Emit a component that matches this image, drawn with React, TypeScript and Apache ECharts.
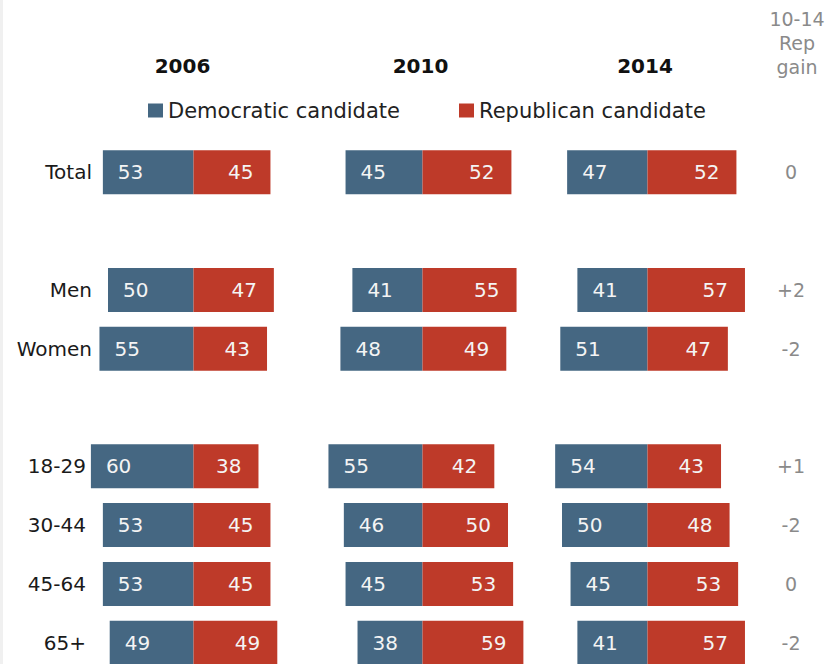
import React, { useEffect, useRef } from "react";
import * as echarts from "echarts";

const categories = ["Total", "", "Men", "Women", " ", "18-29", "30-44", "45-64", "65+"];
const ageGroups = ["18-29", "30-44", "45-64", "65+"];
const years = ["2006", "2010", "2014"];

const dem2006 = [53, null, 50, 55, null, 60, 53, 53, 49];
const rep2006 = [45, null, 47, 43, null, 38, 45, 45, 49];
const dem2010 = [45, null, 41, 48, null, 55, 46, 45, 38];
const rep2010 = [52, null, 55, 49, null, 42, 50, 53, 59];
const dem2014 = [47, null, 41, 51, null, 54, 50, 45, 41];
const rep2014 = [52, null, 57, 47, null, 43, 48, 53, 57];
const repGain = ["0", "", "+2", "-2", "", "+1", "-2", "0", "-2"];

const DEM = "Democratic candidate";
const REP = "Republican candidate";

export default function App() {
  const ref = useRef<HTMLDivElement>(null);

  useEffect(() => {
    if (!ref.current) return;
    const chart = echarts.init(ref.current, null, { renderer: "svg" });
    const font = "'DejaVu Sans', sans-serif";
    const demColor = "#456782";
    const repColor = "#be3a29";
    const centers = [193.5, 422.5, 647.5];
    const pxPerUnit = 1.71;
    const half = 65;
    const gridW = half * 2 * pxPerUnit;
    const dems = [dem2006, dem2010, dem2014];
    const reps = [rep2006, rep2010, rep2014];

    const grids = centers.map((c) => ({
      left: c - gridW / 2,
      width: gridW,
      top: 142.9,
      height: 529.2,
      containLabel: false,
    }));

    const xAxes = centers.map((_, i) => ({
      type: "value",
      gridIndex: i,
      min: -half,
      max: half,
      show: false,
    }));

    const yAxes: any[] = centers.map((_, i) => ({
      type: "category",
      gridIndex: i,
      data: categories,
      inverse: true,
      axisLine: { show: false, onZero: false },
      axisTick: { show: false },
      splitLine: { show: false },
      axisLabel: {
        show: i === 0,
        interval: 0,
        margin: -9.6,
        formatter: (v: string) =>
          ageGroups.includes(v) ? `{a|${v}}` : `{n|${v}}`,
        rich: {
          a: { fontFamily: font, fontSize: 20, color: "#1a1a1a", padding: [0, 6, 0, 0] },
          n: { fontFamily: font, fontSize: 20, color: "#1a1a1a" },
        },
      },
    }));
    yAxes.push({
      type: "category",
      gridIndex: 2,
      position: "right",
      data: repGain,
      inverse: true,
      axisLine: { show: false, onZero: false },
      axisTick: { show: false },
      splitLine: { show: false },
      axisLabel: {
        interval: 0,
        margin: 791 - (centers[2] + gridW / 2),
        align: "center",
        fontFamily: font,
        fontSize: 19,
        color: "#8a8a8a",
      },
    });

    const series: any[] = [];
    centers.forEach((_, i) => {
      series.push({
        type: "bar",
        name: DEM,
        xAxisIndex: i,
        yAxisIndex: i,
        stack: "s" + i,
        barWidth: 44,
        itemStyle: { color: demColor },
        data: dems[i].map((v) => (v == null ? null : -v)),
        label: {
          show: true,
          position: "insideLeft",
          distance: 15,
          formatter: (p: any) => String(Math.abs(p.value)),
          color: "#f4f4f4",
          fontFamily: font,
          fontSize: 20,
        },
      });
      series.push({
        type: "bar",
        name: REP,
        xAxisIndex: i,
        yAxisIndex: i,
        stack: "s" + i,
        barWidth: 44,
        itemStyle: { color: repColor },
        data: reps[i],
        label: {
          show: true,
          position: "insideRight",
          distance: 17,
          color: "#f4f4f4",
          fontFamily: font,
          fontSize: 20,
        },
      });
    });

    const yearXs = [182.5, 420.5, 645];
    const graphic: any[] = [
      { type: "rect", left: 0, top: 0, shape: { x: 0, y: 0, width: 3, height: 700 }, style: { fill: "#f0f0f0" } },
      ...years.map((y, i) => ({
        type: "text",
        x: yearXs[i],
        y: 66,
        style: {
          text: y,
          align: "center",
          verticalAlign: "middle",
          fontFamily: font,
          fontWeight: "bold",
          fontSize: 20,
          fill: "#111",
        },
      })),
      {
        type: "text",
        x: 797,
        y: 43,
        style: {
          text: "10-14\nRep\ngain",
          align: "center",
          verticalAlign: "middle",
          fontFamily: font,
          fontSize: 19,
          lineHeight: 24,
          fill: "#8a8a8a",
        },
      },
    ];

    const legendCommon = {
      top: 95,
      icon: "rect",
      itemWidth: 15,
      itemHeight: 14,
      itemGap: 10,
      textStyle: { fontFamily: font, fontSize: 21, color: "#222" },
      selectedMode: false,
    };

    chart.setOption({
      animation: false,
      backgroundColor: "#ffffff",
      legend: [
        { ...legendCommon, left: 143, data: [DEM] },
        { ...legendCommon, left: 454, data: [REP] },
      ],
      grid: grids,
      xAxis: xAxes,
      yAxis: yAxes,
      series,
      graphic,
    });

    return () => chart.dispose();
  }, []);

  return (
    <div
      style={{
        position: "absolute",
        left: 0,
        top: 0,
        width: 829,
        height: 664,
        overflow: "hidden",
        background: "#fff",
      }}
    >
      <div ref={ref} style={{ width: 829, height: 700 }} />
    </div>
  );
}
